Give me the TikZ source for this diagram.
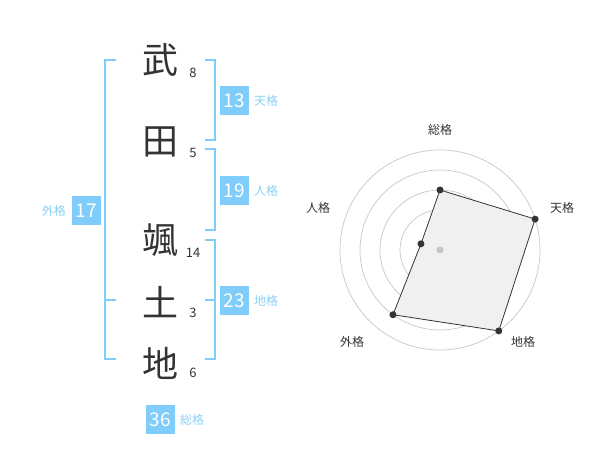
\documentclass[tikz,border=0pt]{standalone}
\usepackage{fontspec}
\setmainfont{Noto Sans CJK JP}
\begin{document}
\begin{tikzpicture}[x=1pt, y=-1pt]

\definecolor{kakublue}{RGB}{128,204,250}
\definecolor{labelblue}{RGB}{140,208,246}
\definecolor{ink}{RGB}{51,51,51}

\tikzstyle{ch}=[text=ink, font=\fontsize{36}{36}\selectfont, inner sep=0pt];
\tikzstyle{num}=[text=ink, font=\fontsize{13}{13}\selectfont, inner sep=0pt];
\tikzstyle{kaku}=[fill=kakublue, text=white, font=\fontsize{19}{19}\selectfont, minimum size=29pt, inner sep=0pt];
\tikzstyle{lbl}=[text=labelblue, font=\fontsize{12}{12}\selectfont, inner sep=0pt];
\tikzstyle{br}=[kakublue, line width=2pt];
\tikzstyle{rlbl}=[text=ink, font=\fontsize{12}{12}\selectfont, inner sep=0pt];
\tikzstyle{pt}=[fill=ink, circle, inner sep=0pt, minimum size=7pt];

\useasboundingbox (0,0) rectangle (600,470);

% name
\node[ch] (c1) at (160, 60) {武};
\node[ch] (c2) at (160, 142) {田};
\node[ch] (c3) at (160, 240) {颯};
\node[ch] (c4) at (160, 302) {土};
\node[ch] (c5) at (160, 363) {地};

\node[num] (n1) at (193, 73) {8};
\node[num] (n2) at (193, 153) {5};
\node[num] (n3) at (193, 253) {14};
\node[num] (n4) at (193, 313) {3};
\node[num] (n5) at (193, 373) {6};

% brackets
\draw[br] (205, 60) -- (215, 60) -- (215, 140) -- (205, 140);
\draw[br] (205, 149) -- (215, 149) -- (215, 230) -- (205, 230);
\draw[br] (205, 240) -- (215, 240) -- (215, 359) -- (205, 359);
\draw[br] (205, 300) -- (215, 300);
\draw[br] (116, 60) -- (105, 60) -- (105, 359) -- (116, 359);
\draw[br] (105, 300) -- (116, 300);

% kaku boxes
\node[kaku] (ten) at (234.5, 100.5) {13};
\node[lbl, anchor=west] (tenl) at (254, 101) {天格};
\node[kaku] (jin) at (234.5, 190.5) {19};
\node[lbl, anchor=west] (jinl) at (254, 191) {人格};
\node[kaku] (chi) at (234.5, 300.5) {23};
\node[lbl, anchor=west] (chil) at (254, 301) {地格};
\node[kaku] (gai) at (86.5, 210.5) {17};
\node[lbl, anchor=east] (gail) at (66, 211) {外格};
\node[kaku] (sou) at (160.5, 419.5) {36};
\node[lbl, anchor=west] (soul) at (180, 420) {総格};

% radar
\begin{scope}[shift={(440, 250)}, yscale=-1]
\foreach \r in {20, 40, 60, 80, 100}
  \draw[black!22, line width=0.7pt] (0, 0) circle (\r);
\fill[black!6] (90:60) -- (18:100) -- (-54:100) -- (-126:80) -- (162:20) -- cycle;
\fill[black!22] (0, 0) circle (3.5);
\coordinate (psou) at (90:60);
\coordinate (pten) at (18:100);
\coordinate (pchi) at (-54:100);
\coordinate (pgai) at (-126:80);
\coordinate (pjin) at (162:20);
\end{scope}

\draw[ink, line width=0.8pt] (psou) -- (pten) -- (pchi) -- (pgai) -- (pjin) -- (psou);
\foreach \p in {psou, pten, pchi, pgai, pjin}
  \node[pt] at (\p) {};

\node[rlbl] (rsou) at (440, 130) {総格};
\node[rlbl] (rten) at (562, 208) {天格};
\node[rlbl] (rchi) at (523, 342) {地格};
\node[rlbl] (rgai) at (352, 342) {外格};
\node[rlbl] (rjin) at (318, 208) {人格};
\end{tikzpicture}
\end{document}
